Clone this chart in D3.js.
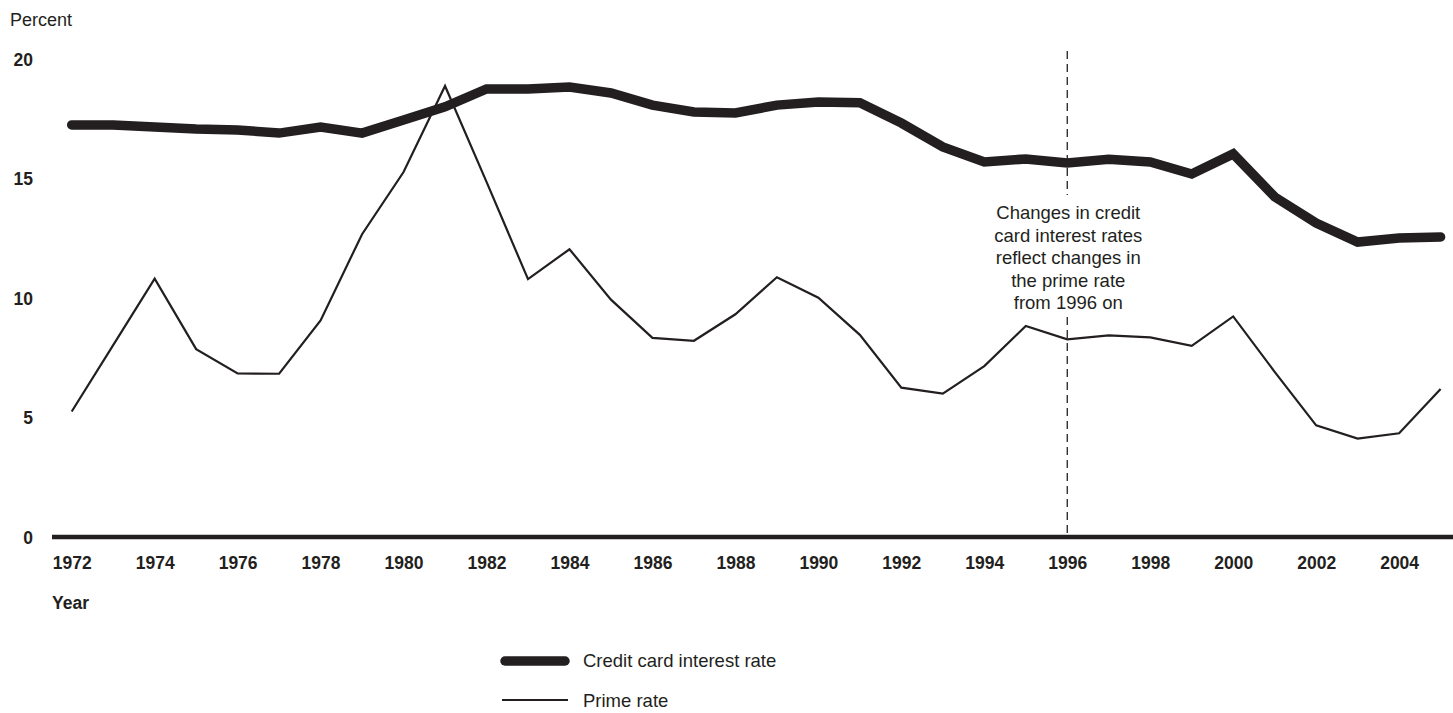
<!DOCTYPE html>
<html>
<head>
<meta charset="utf-8">
<script src="https://cdn.jsdelivr.net/npm/d3@7"></script>
<style>
  html, body { margin: 0; padding: 0; background: #fff; }
  svg { display: block; font-family: "Liberation Sans", Arial, Helvetica, sans-serif; }
</style>
</head>
<body>
<svg id="chart" width="1453" height="713"></svg>
<script>
const years = d3.range(1972, 2006);
const creditCardRate = [17.24, 17.24, 17.15, 17.07, 17.03, 16.9, 17.15, 16.9, 17.45, 18.0,
  18.75, 18.75, 18.83, 18.58, 18.07, 17.78, 17.74, 18.07, 18.2, 18.17,
  17.32, 16.32, 15.69, 15.82, 15.65, 15.8, 15.69, 15.19, 16.03, 14.23,
  13.14, 12.34, 12.51, 12.55];
const primeRate = [5.25, 8.03, 10.81, 7.86, 6.84, 6.83, 9.06, 12.67, 15.27, 18.87,
  14.86, 10.79, 12.04, 9.93, 8.33, 8.21, 9.32, 10.87, 10.01, 8.46,
  6.25, 6.00, 7.15, 8.83, 8.27, 8.44, 8.35, 8.00, 9.23, 6.91,
  4.67, 4.12, 4.34, 6.19];
const xTickYears = d3.range(1972, 2005, 2);
const yTickValues = [0, 5, 10, 15, 20];
const annotationLines = ["Changes in credit", "card interest rates", "reflect changes in", "the prime rate", "from 1996 on"];
const annotationYear = 1996;
const legendLabels = ["Credit card interest rate", "Prime rate"];

const ink = "#231f20";
const svg = d3.select("#chart");

const x = d3.scaleLinear().domain([1972, 2005]).range([71.7, 1440.6]);
const y = d3.scaleLinear().domain([0, 20]).range([537, 59]);

// Y axis labels
const yAxis = d3.axisLeft(y).tickValues(yTickValues).tickSize(0).tickPadding(0).tickFormat(d3.format("d"));
const gy = svg.append("g").attr("transform", "translate(33,0)").call(yAxis);
gy.select(".domain").remove();
gy.selectAll("text").attr("font-size", 17.5).attr("font-weight", "bold").attr("fill", ink)
  .attr("font-family", "Liberation Sans, Arial, sans-serif").attr("dy", "0.36em");

svg.append("text").attr("x", 10).attr("y", 26).attr("font-size", 18).attr("fill", ink).text("Percent");

// X axis
const xAxis = d3.axisBottom(x).tickValues(xTickYears).tickSize(0).tickPadding(0).tickFormat(d3.format("d"));
const gx = svg.append("g").attr("transform", "translate(0,563)").call(xAxis);
gx.select(".domain").remove();
gx.selectAll("text").attr("font-size", 17.5).attr("font-weight", "bold").attr("fill", ink)
  .attr("font-family", "Liberation Sans, Arial, sans-serif").attr("dy", "0.36em");

svg.append("line").attr("x1", 52).attr("x2", 1453).attr("y1", y(0)).attr("y2", y(0))
  .attr("stroke", ink).attr("stroke-width", 4.5);

svg.append("text").attr("x", 52).attr("y", 609).attr("font-size", 17.5).attr("font-weight", "bold")
  .attr("fill", ink).text("Year");

// Dashed reference line (broken around annotation)
const xa = x(annotationYear);
svg.append("line").attr("x1", xa).attr("x2", xa).attr("y1", 51).attr("y2", 195)
  .attr("stroke", ink).attr("stroke-width", 1.3).attr("stroke-dasharray", "8,5");
svg.append("line").attr("x1", xa).attr("x2", xa).attr("y1", 317).attr("y2", y(0))
  .attr("stroke", ink).attr("stroke-width", 1.3).attr("stroke-dasharray", "8,5");

// Annotation
const ann = svg.append("text").attr("font-size", 18.5).attr("fill", ink).attr("text-anchor", "middle");
annotationLines.forEach((t, i) => {
  ann.append("tspan").attr("x", xa + 1).attr("y", 219 + i * 22.5).text(t);
});

// Lines
const line = d3.line().x((d, i) => x(years[i])).y(d => y(d));
svg.append("path").datum(creditCardRate).attr("d", line).attr("fill", "none")
  .attr("stroke", ink).attr("stroke-width", 9.5).attr("stroke-linecap", "round").attr("stroke-linejoin", "miter");
svg.append("path").datum(primeRate).attr("d", line).attr("fill", "none")
  .attr("stroke", ink).attr("stroke-width", 2.2).attr("stroke-linejoin", "miter");

// Legend
svg.append("line").attr("x1", 505).attr("x2", 565).attr("y1", 661).attr("y2", 661)
  .attr("stroke", ink).attr("stroke-width", 9.5).attr("stroke-linecap", "round");
svg.append("text").attr("x", 583).attr("y", 667).attr("font-size", 18.5).attr("fill", ink).text(legendLabels[0]);
svg.append("line").attr("x1", 502).attr("x2", 568).attr("y1", 700).attr("y2", 700)
  .attr("stroke", ink).attr("stroke-width", 2);
svg.append("text").attr("x", 583).attr("y", 707).attr("font-size", 18.5).attr("fill", ink).text(legendLabels[1]);
</script>
</body>
</html>
